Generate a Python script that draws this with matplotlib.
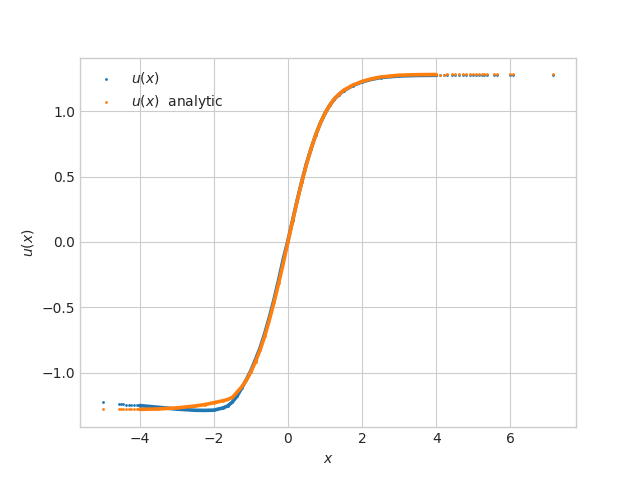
import numpy as np
import matplotlib
matplotlib.use("Agg")
import matplotlib.pyplot as plt

# curve nodes (dense part of the sample)
x_core = [-4.0, -3.5, -3.0, -2.5, -2.25, -2.0, -1.75, -1.625, -1.5, -1.375, -1.25, -1.125,
          -1.0, -0.875, -0.75, -0.625, -0.5, -0.375, -0.25, -0.125, 0.0, 0.125, 0.25, 0.375,
          0.5, 0.625, 0.75, 0.875, 1.0, 1.125, 1.25, 1.375, 1.5, 1.75, 2.0, 2.25, 2.5, 3.0,
          3.5, 4.0]
u_model_core = [-1.252, -1.265, -1.279, -1.288, -1.289, -1.287, -1.270, -1.255, -1.225, -1.18, -1.12, -1.055,
                -0.985, -0.90, -0.81, -0.70, -0.575, -0.44, -0.29, -0.13, 0.01, 0.165, 0.32, 0.465,
                0.60, 0.715, 0.82, 0.91, 0.985, 1.045, 1.093, 1.128, 1.157, 1.197, 1.225, 1.244, 1.258, 1.270,
                1.274, 1.275]
u_exact_core = [-1.281, -1.278, -1.270, -1.255, -1.245, -1.230, -1.215, -1.205, -1.19, -1.15, -1.11, -1.06,
                -0.995, -0.915, -0.825, -0.72, -0.595, -0.46, -0.315, -0.16, 0.0, 0.16, 0.315, 0.46,
                0.595, 0.715, 0.82, 0.91, 0.985, 1.045, 1.095, 1.13, 1.16, 1.20, 1.228, 1.248, 1.262, 1.276,
                1.280, 1.281]

# sparse tail points
x_tail = [-5.0, -4.55, -4.5, -4.45, -4.38, -4.3, -4.22, -4.15, -4.08,
          4.1, 4.2, 4.3, 4.42, 4.5, 4.6, 4.72, 4.8, 4.9, 5.0, 5.08, 5.15, 5.22, 5.3, 5.37,
          5.55, 5.64, 6.0, 6.08, 7.16]
u_model_tail = [-1.228, -1.239, -1.241, -1.242, -1.244, -1.246, -1.248, -1.249, -1.251,
                1.275, 1.275, 1.275, 1.276, 1.276, 1.276, 1.276, 1.276, 1.276, 1.276, 1.276, 1.276, 1.276, 1.276, 1.276,
                1.276, 1.276, 1.276, 1.276, 1.276]
u_exact_tail = [-1.282, -1.282, -1.282, -1.282, -1.282, -1.282, -1.282, -1.282, -1.281,
                1.281, 1.281, 1.282, 1.282, 1.282, 1.282, 1.282, 1.282, 1.282, 1.282, 1.282, 1.282, 1.282, 1.282, 1.282,
                1.282, 1.282, 1.282, 1.282, 1.282]

plt.style.use("seaborn-v0_8-whitegrid")
plt.rcParams['font.family'] = ['DejaVu Sans']

fig, ax = plt.subplots(figsize=(6.4, 4.8), dpi=100)

x_all = np.concatenate([x_tail, x_core])
um_all = np.concatenate([u_model_tail, u_model_core])
ue_all = np.concatenate([u_exact_tail, u_exact_core])

ax.scatter(x_all, um_all, s=1, color="C0", label="$u(x)$")
ax.plot(x_core, u_model_core, color="C0", lw=2.6)
ax.scatter(x_all, ue_all, s=1, color="C1", label="$u(x)$  analytic")
ax.plot(x_core, u_exact_core, color="C1", lw=2.6)

ax.set_xlabel("$x$")
ax.set_ylabel("$u(x)$")
ax.legend(loc="upper left")

fig.savefig("out.png")
